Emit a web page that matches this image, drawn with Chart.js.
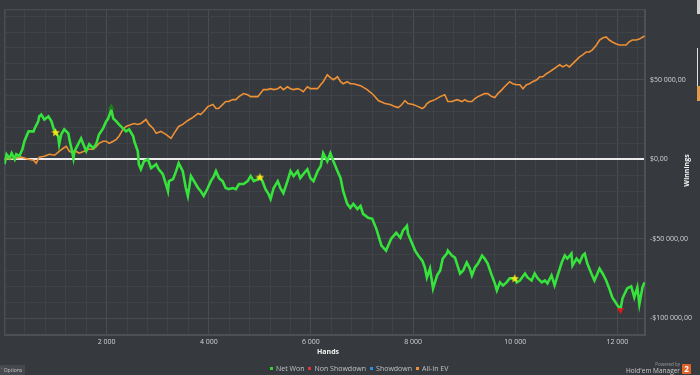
<!DOCTYPE html>
<html>
<head>
<meta charset="utf-8">
<script src="https://cdn.jsdelivr.net/npm/chart.js@4.4.0/dist/chart.umd.min.js"></script>
<style>
  html, body { margin: 0; padding: 0; background: #36393d; overflow: hidden; }
  #wrap { position: relative; width: 700px; height: 375px; font-family: 'Open Sans', 'Noto Sans', sans-serif; }
  #graph { position: absolute; left: 0; top: 0; }
  .axis-title { position: absolute; color: #f2f2f2; font-size: 7px; font-weight: bold; white-space: nowrap; }
  #hands-title { left: 317px; top: 347px; }
  #winnings-title { left: 670px; top: 166px; transform: rotate(-90deg); transform-origin: center; }
  #legend { position: absolute; left: 270px; top: 364px; display: flex; gap: 4px; font-size: 7px; color: #bfc2c5; white-space: nowrap; }
  #legend span.sw { display: inline-block; width: 3px; height: 3px; margin-right: 3px; vertical-align: 1px; }
  #options { position: absolute; left: 0; top: 365px; width: 25px; height: 10px; background: #45484c; color: #c8c8c8; font-size: 5px; line-height: 10px; padding-left: 1px; box-sizing: border-box; white-space: nowrap; overflow: hidden; }
  #powered { position: absolute; left: 620px; top: 362px; color: #c8c8c8; text-align: right; width: 60px; white-space: nowrap; }
  #powered .small { font-size: 4.5px; line-height: 5px; color: #9a9a9a; }
  #powered .big { font-size: 6.5px; line-height: 8px; }
  #logo { position: absolute; left: 682px; top: 364px; width: 9px; height: 10px; background: #e0642a; color: #fff; font-size: 8px; font-weight: bold; text-align: center; line-height: 10px; border-radius: 1px; }
  .scroll { position: absolute; left: 697px; width: 3px; background: #d8d8d8; }
</style>
</head>
<body>
<div id="wrap">
  <canvas id="graph" width="700" height="375"></canvas>
  <div id="hands-title" class="axis-title">Hands</div>
  <div id="winnings-title" class="axis-title">Winnings</div>
  <div id="legend"></div>
  <div id="options">˄ Options</div>
  <div id="powered"><div class="small">Powered by</div><div class="big">Hold'em Manager</div></div>
  <div id="logo">2</div>
  <div class="scroll" style="top:0;height:14px;background:#cfcfcf"></div>
  <div class="scroll" style="top:48px;height:40px;width:1px;background:#e0e0e0"></div>
  <div class="scroll" style="top:86px;height:15px;background:#e39a4a"></div>
</div>
<script>
// Net Won: [hands, $]
const NET_WON = [
  [0,-3100],[40,3100],[100,600],[140,3800],[200,0],[230,3100],[290,1900],[350,6300],[390,11300],
  [470,17500],[570,17500],[590,19400],[660,23800],[680,26900],[720,28100],[780,25000],[860,26900],
  [920,23800],[960,19400],[1000,16900],[1050,14400],[1070,9400],[1110,15600],[1170,18800],[1250,16300],
  [1270,12500],[1310,6900],[1350,600],[1370,5000],[1440,9400],[1500,13100],[1560,8100],[1600,5000],
  [1660,9400],[1740,6900],[1800,10000],[1850,15600],[1930,19400],[1990,23800],[2030,25600],[2090,31300],
  [2130,25600],[2190,23800],[2240,21900],[2320,19400],[2380,17500],[2440,18800],[2520,14400],[2540,11300],
  [2610,5000],[2630,-3100],[2670,-6300],[2730,-1300],[2810,0],[2870,-5600],[2970,-3100],[3020,-6300],
  [3100,-9400],[3160,-15600],[3200,-20000],[3220,-13800],[3300,-12500],[3360,-7500],[3410,-2500],
  [3490,-7500],[3550,-18100],[3590,-23100],[3650,-10600],[3710,-13800],[3790,-18100],[3840,-20000],
  [3900,-23100],[3980,-18100],[4040,-13800],[4100,-10600],[4140,-7500],[4200,-11900],[4270,-13800],
  [4330,-18100],[4390,-18800],[4470,-18100],[4530,-18800],[4590,-15600],[4680,-15600],[4760,-13800],
  [4820,-10600],[4880,-13800],[4960,-12500],[5000,-11300],[5050,-13800],[5110,-18800],[5170,-21900],
  [5210,-25000],[5270,-18100],[5350,-13800],[5400,-18100],[5460,-21300],[5540,-13800],[5600,-7500],
  [5660,-10600],[5740,-7500],[5790,-11900],[5850,-9400],[5930,-6300],[5990,-11900],[6050,-13800],
  [6130,-7500],[6190,-4400],[6240,3800],[6320,-1300],[6380,3800],[6440,-1300],[6520,-7500],[6580,-11900],
  [6630,-20000],[6710,-28100],[6770,-30600],[6830,-28100],[6910,-31300],[6970,-29400],[7020,-34400],
  [7120,-36900],[7200,-37500],[7280,-43800],[7380,-54400],[7470,-57500],[7570,-50000],[7670,-46300],
  [7750,-49400],[7800,-45000],[7880,-41900],[7900,-46900],[7980,-53100],[8040,-57500],[8100,-60600],
  [8180,-63800],[8230,-68100],[8270,-74400],[8330,-68800],[8390,-81300],[8470,-73100],[8530,-70000],
  [8580,-62500],[8660,-59400],[8680,-57500],[8760,-60600],[8820,-61900],[8880,-68100],[8920,-71900],
  [8980,-70000],[9050,-65000],[9110,-68800],[9150,-73100],[9210,-68100],[9270,-65600],[9350,-60600],
  [9400,-62500],[9460,-65600],[9540,-73100],[9600,-78100],[9640,-82500],[9700,-77500],[9760,-79400],
  [9830,-77500],[9890,-75000],[9990,-75000],[10030,-77500],[10090,-76300],[10190,-71900],[10240,-74400],
  [10320,-76300],[10380,-71900],[10440,-75000],[10520,-77500],[10580,-76300],[10630,-78100],[10710,-73100],
  [10770,-79400],[10830,-73100],[10910,-65000],[10970,-60600],[11020,-62500],[11100,-59400],[11120,-66900],
  [11200,-62500],[11260,-65000],[11320,-60600],[11360,-59400],[11410,-65600],[11490,-71900],[11550,-76300],
  [11610,-71900],[11650,-68800],[11710,-71900],[11780,-76300],[11840,-81300],[11900,-86900],[12000,-91900],
  [12060,-94400],[12100,-87500],[12190,-81300],[12270,-80000],[12330,-86900],[12390,-80600],[12430,-91300],
  [12490,-80600],[12530,-77500]
];

// All-In EV: [hands, $]
const ALL_IN_EV = [
  [0,0],[200,600],[330,1300],[470,0],[570,-600],[620,-2500],[680,1300],[780,1900],[880,3100],[980,2500],
  [1070,5000],[1150,6900],[1210,8100],[1270,5000],[1350,3800],[1400,5000],[1460,3800],[1560,5000],
  [1640,6300],[1740,6300],[1800,8100],[1850,10000],[1930,11300],[1990,11300],[2050,10000],[2130,11300],
  [2190,12500],[2240,14400],[2320,18800],[2380,20600],[2480,21900],[2540,22500],[2610,21900],[2670,22500],
  [2770,25000],[2830,21900],[2910,19400],[2970,16300],[3060,17500],[3160,15600],[3260,13100],[3320,16300],
  [3410,20600],[3490,21900],[3590,24400],[3690,26300],[3790,28800],[3840,28100],[3900,30000],[3980,33100],
  [4080,34400],[4140,31900],[4190,31900],[4270,34400],[4330,36300],[4390,36300],[4470,37500],[4530,37500],
  [4590,39400],[4680,41300],[4760,40600],[4820,39400],[4880,39400],[4960,39400],[5010,41300],[5070,43800],
  [5150,43800],[5210,44400],[5270,43800],[5350,44400],[5400,45600],[5460,43800],[5540,45600],[5600,44400],
  [5660,43800],[5740,44400],[5790,43800],[5850,42500],[5930,45600],[5990,44400],[6050,44400],[6130,44400],
  [6190,46900],[6240,48800],[6320,53100],[6380,51300],[6440,50000],[6520,51900],[6580,48800],[6630,47500],
  [6710,48800],[6770,47500],[6830,47500],[6970,46300],[7100,43800],[7220,40600],[7320,36900],[7360,36300],
  [7450,35000],[7550,34400],[7650,33100],[7710,32500],[7780,34400],[7840,36900],[7900,35000],[8000,34400],
  [8100,33100],[8180,31900],[8230,33100],[8270,35000],[8330,36300],[8430,37500],[8530,39400],[8620,40600],
  [8680,36300],[8760,36300],[8860,37500],[8960,36300],[9010,37500],[9070,36300],[9150,36300],[9210,38100],
  [9270,39400],[9350,40600],[9400,41300],[9460,41300],[9540,39400],[9600,38800],[9660,41300],[9740,43800],
  [9790,45600],[9890,48800],[9950,47500],[10030,46900],[10090,46900],[10150,44400],[10220,46900],
  [10280,47500],[10340,48800],[10420,50000],[10480,51900],[10540,51900],[10610,53800],[10670,55000],
  [10730,56300],[10810,58100],[10870,59400],[10930,58100],[11000,59400],[11060,58100],[11120,60000],
  [11200,62500],[11260,64400],[11320,65600],[11390,67500],[11450,67500],[11510,68800],[11590,71900],
  [11650,75000],[11710,76300],[11780,76900],[11840,75000],[11900,73800],[11980,72500],[12040,71900],
  [12100,71900],[12170,71900],[12230,73800],[12290,75000],[12370,75000],[12430,75600],[12530,77500]
];

// session markers on Net Won
const MARK_HANDS  = [1000, 2090, 5000, 9990, 12060];
const MARK_VALUES = [16900, 32500, -11300, -75000, -95000];
const MARK_KINDS  = ['star', 'up', 'star', 'star', 'down'];

const SERIES_NAMES  = ['Net Won', 'Non Showdown', 'Showdown', 'All-In EV'];
const SERIES_COLORS = ['#2fd62f', '#e03838', '#2f8fe0', '#ee9035'];

// axis ranges, grid steps, labelled steps
const X_MIN = 0, X_MAX = 12540, X_GRID = 400, X_LABEL = 2000;
const Y_MIN = -110600, Y_MAX = 94400, Y_GRID = 10000, Y_LABEL = 50000;

document.addEventListener('DOMContentLoaded', () => {
  // legend
  const legend = document.getElementById('legend');
  legend.innerHTML = SERIES_NAMES.map((n, i) =>
    `<div><span class="sw" style="background:${SERIES_COLORS[i]}"></span>${n}</div>`).join('');

  function spaced(n) {
    return Math.abs(n).toString().replace(/\B(?=(\d{3})+(?!\d))/g, ' ');
  }
  function formatMoney(v) {
    return (v < 0 ? '-' : '') + '$' + spaced(v) + ',00';
  }
  // stepSize is unreliable here (Chart.js snaps it to the range), so list grid ticks ourselves
  function gridTicks(min, max, step) {
    const out = [];
    for (let v = Math.ceil(min / step) * step; v <= max; v += step) out.push({ value: v });
    return out;
  }

  // filled yellow star
  const star = document.createElement('canvas');
  star.width = 9; star.height = 9;
  const sc = star.getContext('2d');
  sc.fillStyle = '#f3e31a';
  sc.beginPath();
  for (let i = 0; i < 10; i++) {
    const r = i % 2 === 0 ? 4.5 : 2;
    const a = -Math.PI / 2 + i * Math.PI / 5;
    sc.lineTo(4.5 + r * Math.cos(a), 4.8 + r * Math.sin(a));
  }
  sc.closePath();
  sc.fill();

  // plot border
  const frame = {
    id: 'plotFrame',
    beforeDatasetsDraw(chart) {
      const a = chart.chartArea, c = chart.ctx;
      c.save();
      c.strokeStyle = '#4d5155';
      c.lineWidth = 1;
      c.strokeRect(a.left + 0.5, a.top + 0.5, a.right - a.left - 1, a.bottom - a.top - 1);
      c.restore();
    }
  };

  const ctx = document.getElementById('graph').getContext('2d');
  new Chart(ctx, {
    type: 'line',
    data: {
      datasets: [
        {
          label: 'markers',
          data: MARK_HANDS.map((h, i) => ({ x: h, y: MARK_VALUES[i] })),
          showLine: false,
          pointStyle: MARK_KINDS.map(k => k === 'star' ? star : 'triangle'),
          rotation: MARK_KINDS.map(k => k === 'down' ? 180 : 0),
          pointRadius: MARK_KINDS.map(k => k === 'star' ? 4.5 : 4),
          pointBackgroundColor: MARK_KINDS.map(k => k === 'up' ? '#1c7d1c' : (k === 'down' ? '#dd1a1a' : '#f3e31a')),
          pointBorderWidth: 0
        },
        {
          label: 'Net Won',
          data: NET_WON.map(p => ({ x: p[0], y: p[1] })),
          borderColor: '#36e23c',
          borderWidth: 2.6,
          pointRadius: 0,
          tension: 0
        },
        {
          label: 'All-In EV',
          data: ALL_IN_EV.map(p => ({ x: p[0], y: p[1] })),
          borderColor: '#ee9035',
          borderWidth: 1.6,
          pointRadius: 0,
          tension: 0
        }
      ]
    },
    options: {
      responsive: false,
      animation: false,
      layout: { padding: { left: 1, top: 4.8, right: 0, bottom: 0 } },
      plugins: { legend: { display: false }, tooltip: { enabled: false } },
      scales: {
        x: {
          type: 'linear',
          min: X_MIN, max: X_MAX,
          afterBuildTicks: s => { s.ticks = gridTicks(X_MIN, X_MAX, X_GRID); },
          afterFit: s => { s.height = 40; },
          border: { display: true, color: '#4d5155' },
          grid: {
            drawTicks: false,
            color: c => c.tick.value % X_LABEL === 0 ? '#494c50' : '#3f4246'
          },
          ticks: {
            autoSkip: false,
            maxRotation: 0,
            padding: 3,
            color: '#d4d4d4',
            font: { size: 7, family: "'Open Sans', sans-serif" },
            callback: v => (v % X_LABEL === 0 && v > 0) ? spaced(v) : ''
          }
        },
        y: {
          position: 'right',
          min: Y_MIN, max: Y_MAX,
          afterBuildTicks: s => { s.ticks = gridTicks(Y_MIN, Y_MAX, Y_GRID); },
          afterFit: s => { s.width = 55; },
          border: { display: true, color: '#4d5155' },
          grid: {
            drawTicks: false,
            color: c => c.tick.value === 0 ? '#ececec' : (c.tick.value % Y_LABEL === 0 ? '#494c50' : '#3f4246'),
            lineWidth: c => c.tick.value === 0 ? 2 : 1
          },
          ticks: {
            autoSkip: false,
            padding: 5,
            color: '#d4d4d4',
            font: { size: 7, family: "'Open Sans', sans-serif" },
            callback: v => v % Y_LABEL === 0 ? formatMoney(v) : ''
          }
        }
      }
    },
    plugins: [frame]
  });
});
</script>
</body>
</html>
